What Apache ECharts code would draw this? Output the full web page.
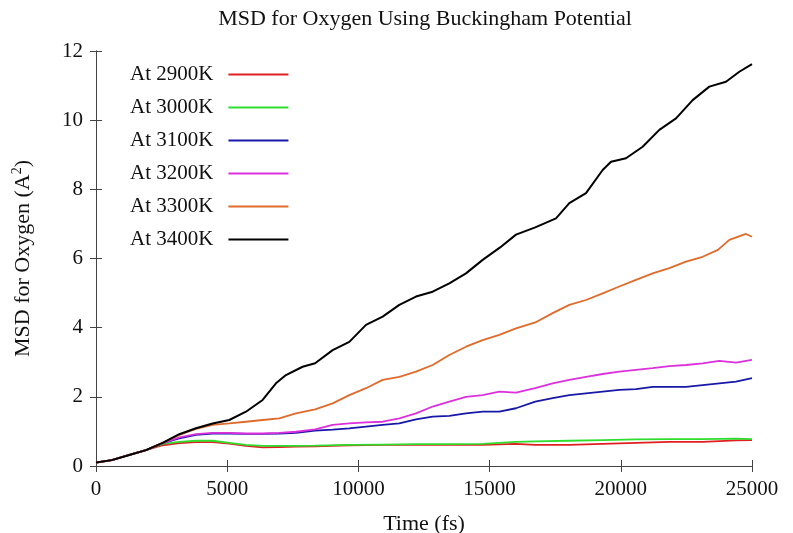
<!DOCTYPE html>
<html>
<head>
<meta charset="utf-8">
<title>MSD for Oxygen Using Buckingham Potential</title>
<script src="https://cdn.jsdelivr.net/npm/echarts@6/dist/echarts.min.js"></script>
<style>
  html, body { margin: 0; padding: 0; background: #fff; }
  #chart { width: 793px; height: 533px; }
</style>
</head>
<body>
<div id="chart"></div>
<script>
// Mean square displacement of oxygen, [time (fs), MSD (A^2)]
const msd2900 = [[0,0.10],[600,0.17],[1270,0.32],[1905,0.46],[2540,0.60],[3175,0.66],[3810,0.69],[4445,0.69],[5080,0.65],[5715,0.58],[6350,0.54],[6985,0.55],[7620,0.56],[8350,0.57],[9654,0.60],[10925,0.61],[12195,0.61],[13465,0.61],[14736,0.61],[16006,0.64],[16740,0.61],[18038,0.61],[19309,0.64],[20579,0.67],[21849,0.70],[23120,0.70],[24390,0.74],[25000,0.75]];
const msd3000 = [[0,0.10],[600,0.17],[1270,0.32],[1905,0.46],[2540,0.64],[3175,0.70],[3810,0.73],[4445,0.73],[5080,0.67],[5715,0.61],[6350,0.58],[6985,0.58],[7620,0.58],[8350,0.59],[9654,0.61],[10925,0.62],[12195,0.63],[13465,0.63],[14736,0.64],[16006,0.70],[16740,0.71],[18038,0.73],[19309,0.75],[20579,0.77],[21849,0.78],[23120,0.78],[24390,0.79],[25000,0.78]];
const msd3100 = [[0,0.10],[600,0.17],[1270,0.32],[1905,0.46],[2540,0.66],[3175,0.80],[3810,0.90],[4445,0.94],[5080,0.94],[5715,0.93],[6350,0.93],[6985,0.94],[7620,0.96],[8350,1.02],[9019,1.05],[9654,1.09],[10290,1.14],[10925,1.19],[11560,1.23],[12195,1.35],[12830,1.43],[13465,1.45],[14100,1.52],[14736,1.57],[15371,1.57],[16006,1.67],[16740,1.86],[17403,1.96],[18038,2.05],[18674,2.10],[19309,2.15],[19944,2.20],[20579,2.22],[21214,2.29],[21849,2.29],[22485,2.29],[23120,2.34],[23755,2.39],[24390,2.44],[25000,2.54]];
const msd3200 = [[0,0.10],[600,0.17],[1270,0.32],[1905,0.46],[2540,0.66],[3175,0.83],[3810,0.92],[4445,0.96],[5080,0.96],[5715,0.94],[6350,0.94],[6985,0.96],[7620,0.99],[8350,1.06],[9019,1.19],[9654,1.23],[10290,1.26],[10925,1.28],[11560,1.38],[12195,1.52],[12830,1.72],[13465,1.86],[14100,2.00],[14736,2.05],[15371,2.15],[16006,2.12],[16740,2.25],[17403,2.39],[18038,2.49],[18674,2.58],[19309,2.66],[19944,2.73],[20579,2.78],[21214,2.83],[21849,2.89],[22485,2.92],[23120,2.97],[23755,3.04],[24390,2.99],[25000,3.07]];
const msd3300 = [[0,0.10],[600,0.17],[1270,0.32],[1905,0.46],[2540,0.67],[3175,0.90],[3810,1.07],[4445,1.19],[5080,1.23],[5715,1.28],[6350,1.33],[6985,1.38],[7620,1.52],[8350,1.64],[9019,1.81],[9654,2.05],[10290,2.25],[10925,2.49],[11560,2.58],[12195,2.73],[12830,2.92],[13465,3.21],[14100,3.45],[14736,3.64],[15371,3.79],[16006,3.98],[16740,4.15],[17403,4.42],[18038,4.66],[18674,4.80],[19309,4.99],[19944,5.19],[20579,5.38],[21214,5.57],[21849,5.72],[22485,5.91],[23120,6.05],[23700,6.25],[24136,6.54],[24771,6.71],[25000,6.63]];
const msd3400 = [[0,0.10],[600,0.17],[1270,0.32],[1905,0.46],[2540,0.67],[3175,0.92],[3810,1.09],[4445,1.23],[5080,1.33],[5715,1.57],[6350,1.91],[6858,2.39],[7239,2.63],[7874,2.87],[8350,2.97],[9019,3.35],[9654,3.59],[10290,4.08],[10925,4.32],[11560,4.66],[12195,4.90],[12830,5.04],[13465,5.28],[14100,5.57],[14736,5.96],[15400,6.32],[16006,6.69],[16740,6.90],[17530,7.16],[18038,7.60],[18674,7.89],[19309,8.56],[19627,8.80],[20198,8.90],[20833,9.23],[21468,9.72],[22104,10.05],[22739,10.58],[23374,10.97],[24009,11.11],[24517,11.40],[25000,11.62]];

const seriesNames = ['At 2900K', 'At 3000K', 'At 3100K', 'At 3200K', 'At 3300K', 'At 3400K'];
const seriesData = [msd2900, msd3000, msd3100, msd3200, msd3300, msd3400];
const seriesColors = ['#e02020', '#2edd2e', '#1818a8', '#dd30dd', '#e06a2a', '#000000'];

const FONT = '"Liberation Serif", "DejaVu Serif", serif';
const frameColor = '#444';

const xTicksCommon = {
  min: 0, max: 25000, interval: 5000,
  axisLine: { show: true, lineStyle: { color: frameColor, width: 1 } },
  axisTick: { show: true, inside: true, length: 6, lineStyle: { color: frameColor } },
  splitLine: { show: false }
};
const yTicksCommon = {
  min: 0, max: 12, interval: 2,
  axisLine: { show: true, lineStyle: { color: frameColor, width: 1 } },
  axisTick: { show: true, inside: true, length: 6, lineStyle: { color: frameColor } },
  splitLine: { show: false }
};

const chart = echarts.init(document.getElementById('chart'), null, { renderer: 'canvas' });
chart.setOption({
  backgroundColor: '#fff',
  animation: false,
  title: {
    text: 'MSD for Oxygen Using Buckingham Potential',
    left: 420, top: 3, textAlign: 'center',
    textStyle: { fontFamily: FONT, fontSize: 22, fontWeight: 'normal', color: '#111' }
  },
  legend: {
    orient: 'vertical', left: 130, top: 64, padding: 0,
    align: 'right', icon: 'rect', itemWidth: 60, itemHeight: 2, itemGap: 12,
    data: seriesNames,
    textStyle: { fontFamily: FONT, fontSize: 21, color: '#111', padding: [0, 10, 0, 0] }
  },
  grid: { left: 96, right: 41, top: 51, bottom: 67, containLabel: false, outerBoundsMode: 'none' },
  xAxis: [
    Object.assign({
      type: 'value', position: 'bottom',
      name: 'Time (fs)', nameLocation: 'middle', nameGap: 47,
      nameTextStyle: { fontFamily: FONT, fontSize: 22, color: '#111' },
      axisLabel: { fontFamily: FONT, fontSize: 21, color: '#111', margin: 13,
                   formatter: v => String(v) }
    }, xTicksCommon),
    Object.assign({ type: 'value', position: 'top', axisLabel: { show: false } }, xTicksCommon)
  ],
  yAxis: [
    Object.assign({
      type: 'value', position: 'left',
      name: 'MSD for Oxygen (A{sup|2})', nameLocation: 'middle', nameGap: 60,
      nameTextStyle: {
        fontFamily: FONT, fontSize: 22, color: '#111',
        rich: { sup: { fontFamily: FONT, fontSize: 14, color: '#111', padding: [0, 0, 12, 0] } }
      },
      axisLabel: { fontFamily: FONT, fontSize: 21, color: '#111', margin: 13 }
    }, yTicksCommon),
    Object.assign({ type: 'value', position: 'right', axisLabel: { show: false } }, yTicksCommon)
  ],
  series: seriesNames.map((name, i) => ({
    name: name,
    type: 'line',
    data: seriesData[i],
    xAxisIndex: 0, yAxisIndex: 0,
    symbol: 'none', showSymbol: false,
    smooth: false,
    color: seriesColors[i],
    lineStyle: { color: seriesColors[i], width: i === 5 ? 2 : 1.8 },
    z: 2 + i
  }))
});
</script>
</body>
</html>
